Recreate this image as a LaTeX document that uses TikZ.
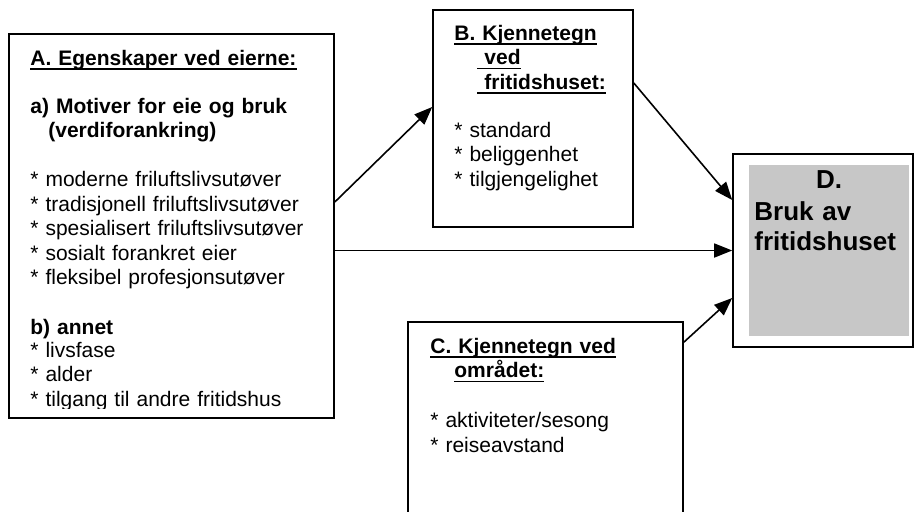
\documentclass[tikz,border=0pt]{standalone}
\usepackage{fontspec}
\setmainfont{Liberation Sans}
\usetikzlibrary{arrows.meta}
\newcommand\understrek[1]{\setbox0\hbox{#1}\rlap{\rule[-2.4pt]{\wd0}{0.75pt}}\box0}
\tikzset{
  boks/.style={draw,line width=0.8pt,inner sep=0pt},
  tekst/.style={anchor=base west,inner sep=0pt,align=left,font=\fontsize{10.5}{12.25}\selectfont},
  pil/.style={-{Triangle[length=9pt,width=7pt]},line width=0.8pt}
}
\begin{document}
\begin{tikzpicture}[x=0.5pt,y=-0.5pt]
  \useasboundingbox (0,0) rectangle (914,511);
  \clip (0,0) rectangle (914,511);
  % boxes
  \node[boks,minimum width=162.5pt,minimum height=192pt] (boxA) at (171.5,226) {};
  \node[boks,minimum width=100pt,minimum height=108.5pt] (boxB) at (533,118.5) {};
  \node[boks,minimum width=137.5pt,minimum height=110pt] (boxC) at (545.5,432) {};
  \node[boks,minimum width=90pt,minimum height=96.5pt] (boxD) at (823,250.5) {};
  \node[fill=black!22,inner sep=0pt,minimum width=80pt,minimum height=85.5pt] (grayD) at (829,250.5) {};

  % texts
  \begin{scope}
    \clip (9,34) rectangle (334,408); % last line cut off
    \node[tekst,text width=150pt] (textA) at (30,65) {%
      \textbf{\understrek{A. Egenskaper ved eierne:}}\\[11.75pt]
      \textbf{a) Motiver for eie og bruk}\\
      \textbf{\hspace*{9pt}(verdiforankring)}\\[12.25pt]
      {*} moderne friluftslivsutøver\\
      {*} tradisjonell friluftslivsutøver\\
      {*} spesialisert friluftslivsutøver\\
      {*} sosialt forankret eier\\
      {*} fleksibel profesjonsutøver\\[12.75pt]
      \textbf{b) annet}\\[-1pt]
      {*} livsfase\\
      {*} alder\\
      {*} tilgang til andre fritidshus};
  \end{scope}
  \node[tekst,text width=85pt] (textB) at (454,40) {%
    \textbf{\understrek{B. Kjennetegn}}\\
    \hspace*{11.5pt}\textbf{\understrek{\ ved}}\\
    \hspace*{11.5pt}\textbf{\understrek{\ fritidshuset:}}\\[11.75pt]
    {*} standard\\
    {*} beliggenhet\\
    {*} tilgjengelighet};
  \node[tekst,text width=120pt] (textC) at (430,353) {%
    \textbf{\understrek{C. Kjennetegn ved}}\\
    \hspace*{12pt}\textbf{\understrek{området:}}\\[12.75pt]
    {*} aktiviteter/sesong\\
    {*} reiseavstand};
  \node[anchor=base,inner sep=0pt,font=\fontsize{13}{15}\selectfont\bfseries] (titleD) at (829,188) {D.};
  \node[tekst,text width=78pt,font=\fontsize{13}{15}\selectfont\bfseries] (textD) at (754,220) {%
    Bruk av\\
    fritidshuset};

  % arrows
  \draw[pil] ([yshift=12pt]boxA.east) -- ([yshift=5.75pt]boxB.west);
  \draw[pil] (boxA.east |- boxD.west) -- (boxD.west);
  \draw[pil] ([yshift=17.75pt]boxB.east) -- ([yshift=25.25pt]boxD.west);
  \draw[pil] ([yshift=-10.5pt]boxC.north east) -- ([yshift=-23.75pt]boxD.west);
\end{tikzpicture}
\end{document}
